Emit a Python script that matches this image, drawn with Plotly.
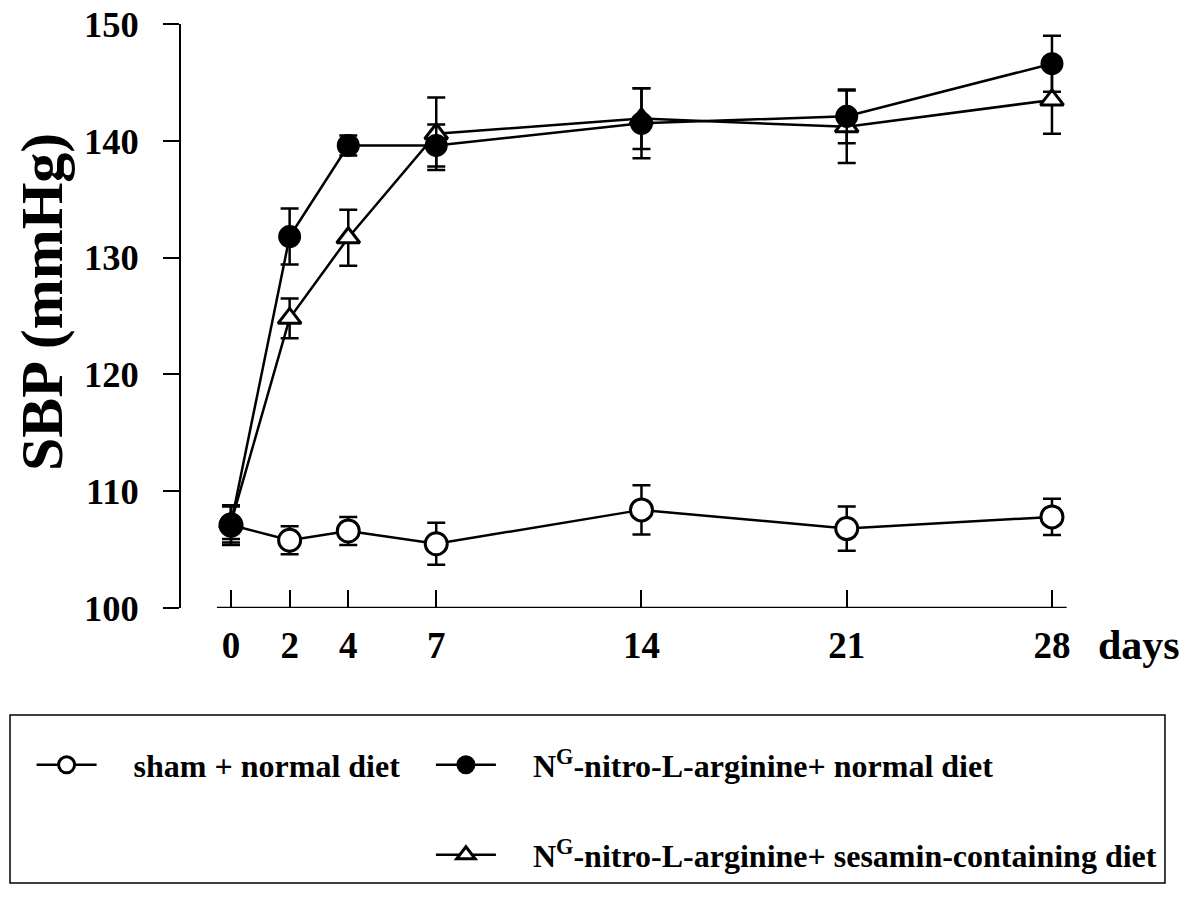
import plotly.graph_objects as go

days = [0, 2, 4, 7, 14, 21, 28]
tick_labels = ["0", "2", "4", "7", "14", "21", "28"]

sham_mean = [107.1, 105.8, 106.6, 105.5, 108.4, 106.8, 107.8]
sham_err = [1.7, 1.2, 1.2, 1.8, 2.1, 1.9, 1.55]

lnna_mean = [107.2, 131.8, 139.6, 139.6, 141.5, 142.1, 146.6]
lnna_err = [1.6, 2.4, 0.85, 1.8, 3.0, 2.3, 2.4]

ses_mean = [107.3, 124.8, 131.7, 140.6, 141.9, 141.2, 143.5]
ses_err = [1.4, 1.7, 2.4, 3.1, 2.6, 3.1, 2.9]

names = [
    "sham + normal diet",
    "N<sup>G</sup>-nitro-L-arginine+ normal diet",
    "N<sup>G</sup>-nitro-L-arginine+ sesamin-containing diet",
]

FONT = "Liberation Serif, Times New Roman, serif"
PAD = "\u00a0" * 4

fig = go.Figure()

def add(mean, err, name, symbol, size, fill, legend):
    fig.add_trace(go.Scatter(
        x=days, y=mean, name=PAD + name, mode="lines+markers",
        line=dict(color="black", width=2.5),
        marker=dict(symbol=symbol, size=size, color=fill,
                    line=dict(color="black", width=3)),
        error_y=dict(type="data", array=err, visible=True,
                     color="black", thickness=2.5, width=9),
        legend=legend, cliponaxis=False,
    ))

add(sham_mean, sham_err, names[0], "circle", 22, "white", "legend")
add(ses_mean, ses_err, names[2], "triangle-up", 20, "white", "legend3")
add(lnna_mean, lnna_err, names[1], "circle", 20, "black", "legend2")

legend_common = dict(
    font=dict(family=FONT, size=32, color="black", weight="bold"),
    bgcolor="rgba(0,0,0,0)", itemwidth=60, xanchor="left", yanchor="middle",
    itemsizing="trace",
)

# page has an 8px body margin, so margins are offset by 8px
fig.update_layout(
    width=1191, height=912,
    margin=dict(l=173, r=118, t=16, b=312, autoexpand=False),
    paper_bgcolor="white", plot_bgcolor="white",
    font=dict(family=FONT, color="black"),
    xaxis=dict(
        range=[-1.705, 28.99], tickmode="array", tickvals=days, ticktext=tick_labels,
        ticks="inside", ticklen=18, tickwidth=2, tickcolor="black",
        showline=False, showgrid=False, zeroline=False,
        tickfont=dict(family=FONT, size=37, color="black", weight="bold"),
        ticklabelstandoff=12, ticklabeloverflow="allow",
    ),
    yaxis=dict(
        range=[100, 150], tickvals=[100, 110, 120, 130, 140, 150],
        ticks="outside", ticklen=16, tickwidth=2, tickcolor="black",
        showline=True, linewidth=2, linecolor="black",
        showgrid=False, zeroline=False,
        tickfont=dict(family=FONT, size=36.5, color="black", weight="bold"),
        ticklabelstandoff=17, ticklabeloverflow="allow",
    ),
    legend=dict(x=-0.166, y=-0.2688, **legend_common),
    legend2=dict(x=0.2777, y=-0.2688, **legend_common),
    legend3=dict(x=0.2777, y=-0.423, **legend_common),
    showlegend=True,
)

# y-axis title
fig.add_annotation(x=-0.1544, y=0.524, xref="paper", yref="paper", text="SBP (mmHg)",
                   textangle=-90, showarrow=False, xanchor="center", yanchor="middle",
                   font=dict(family=FONT, size=60, color="black", weight="bold"))

# x-axis baseline (shorter than plot width, as in the original)
fig.add_shape(type="line", xref="x", yref="y", x0=-0.48, x1=28.5, y0=100, y1=100,
              line=dict(color="black", width=2.5), layer="above")
# legend frame
fig.add_shape(type="rect", xref="paper", yref="paper", x0=-0.19, x1=1.0933,
              y0=-0.4709, y1=-0.1832, line=dict(color="black", width=1.5))

fig.add_annotation(x=28, y=0, xref="x", yref="paper", text="days", showarrow=False,
                   xanchor="left", yanchor="middle", xshift=44, yshift=-37,
                   font=dict(family=FONT, size=42, color="black", weight="bold"))

fig.write_html("out.html")
